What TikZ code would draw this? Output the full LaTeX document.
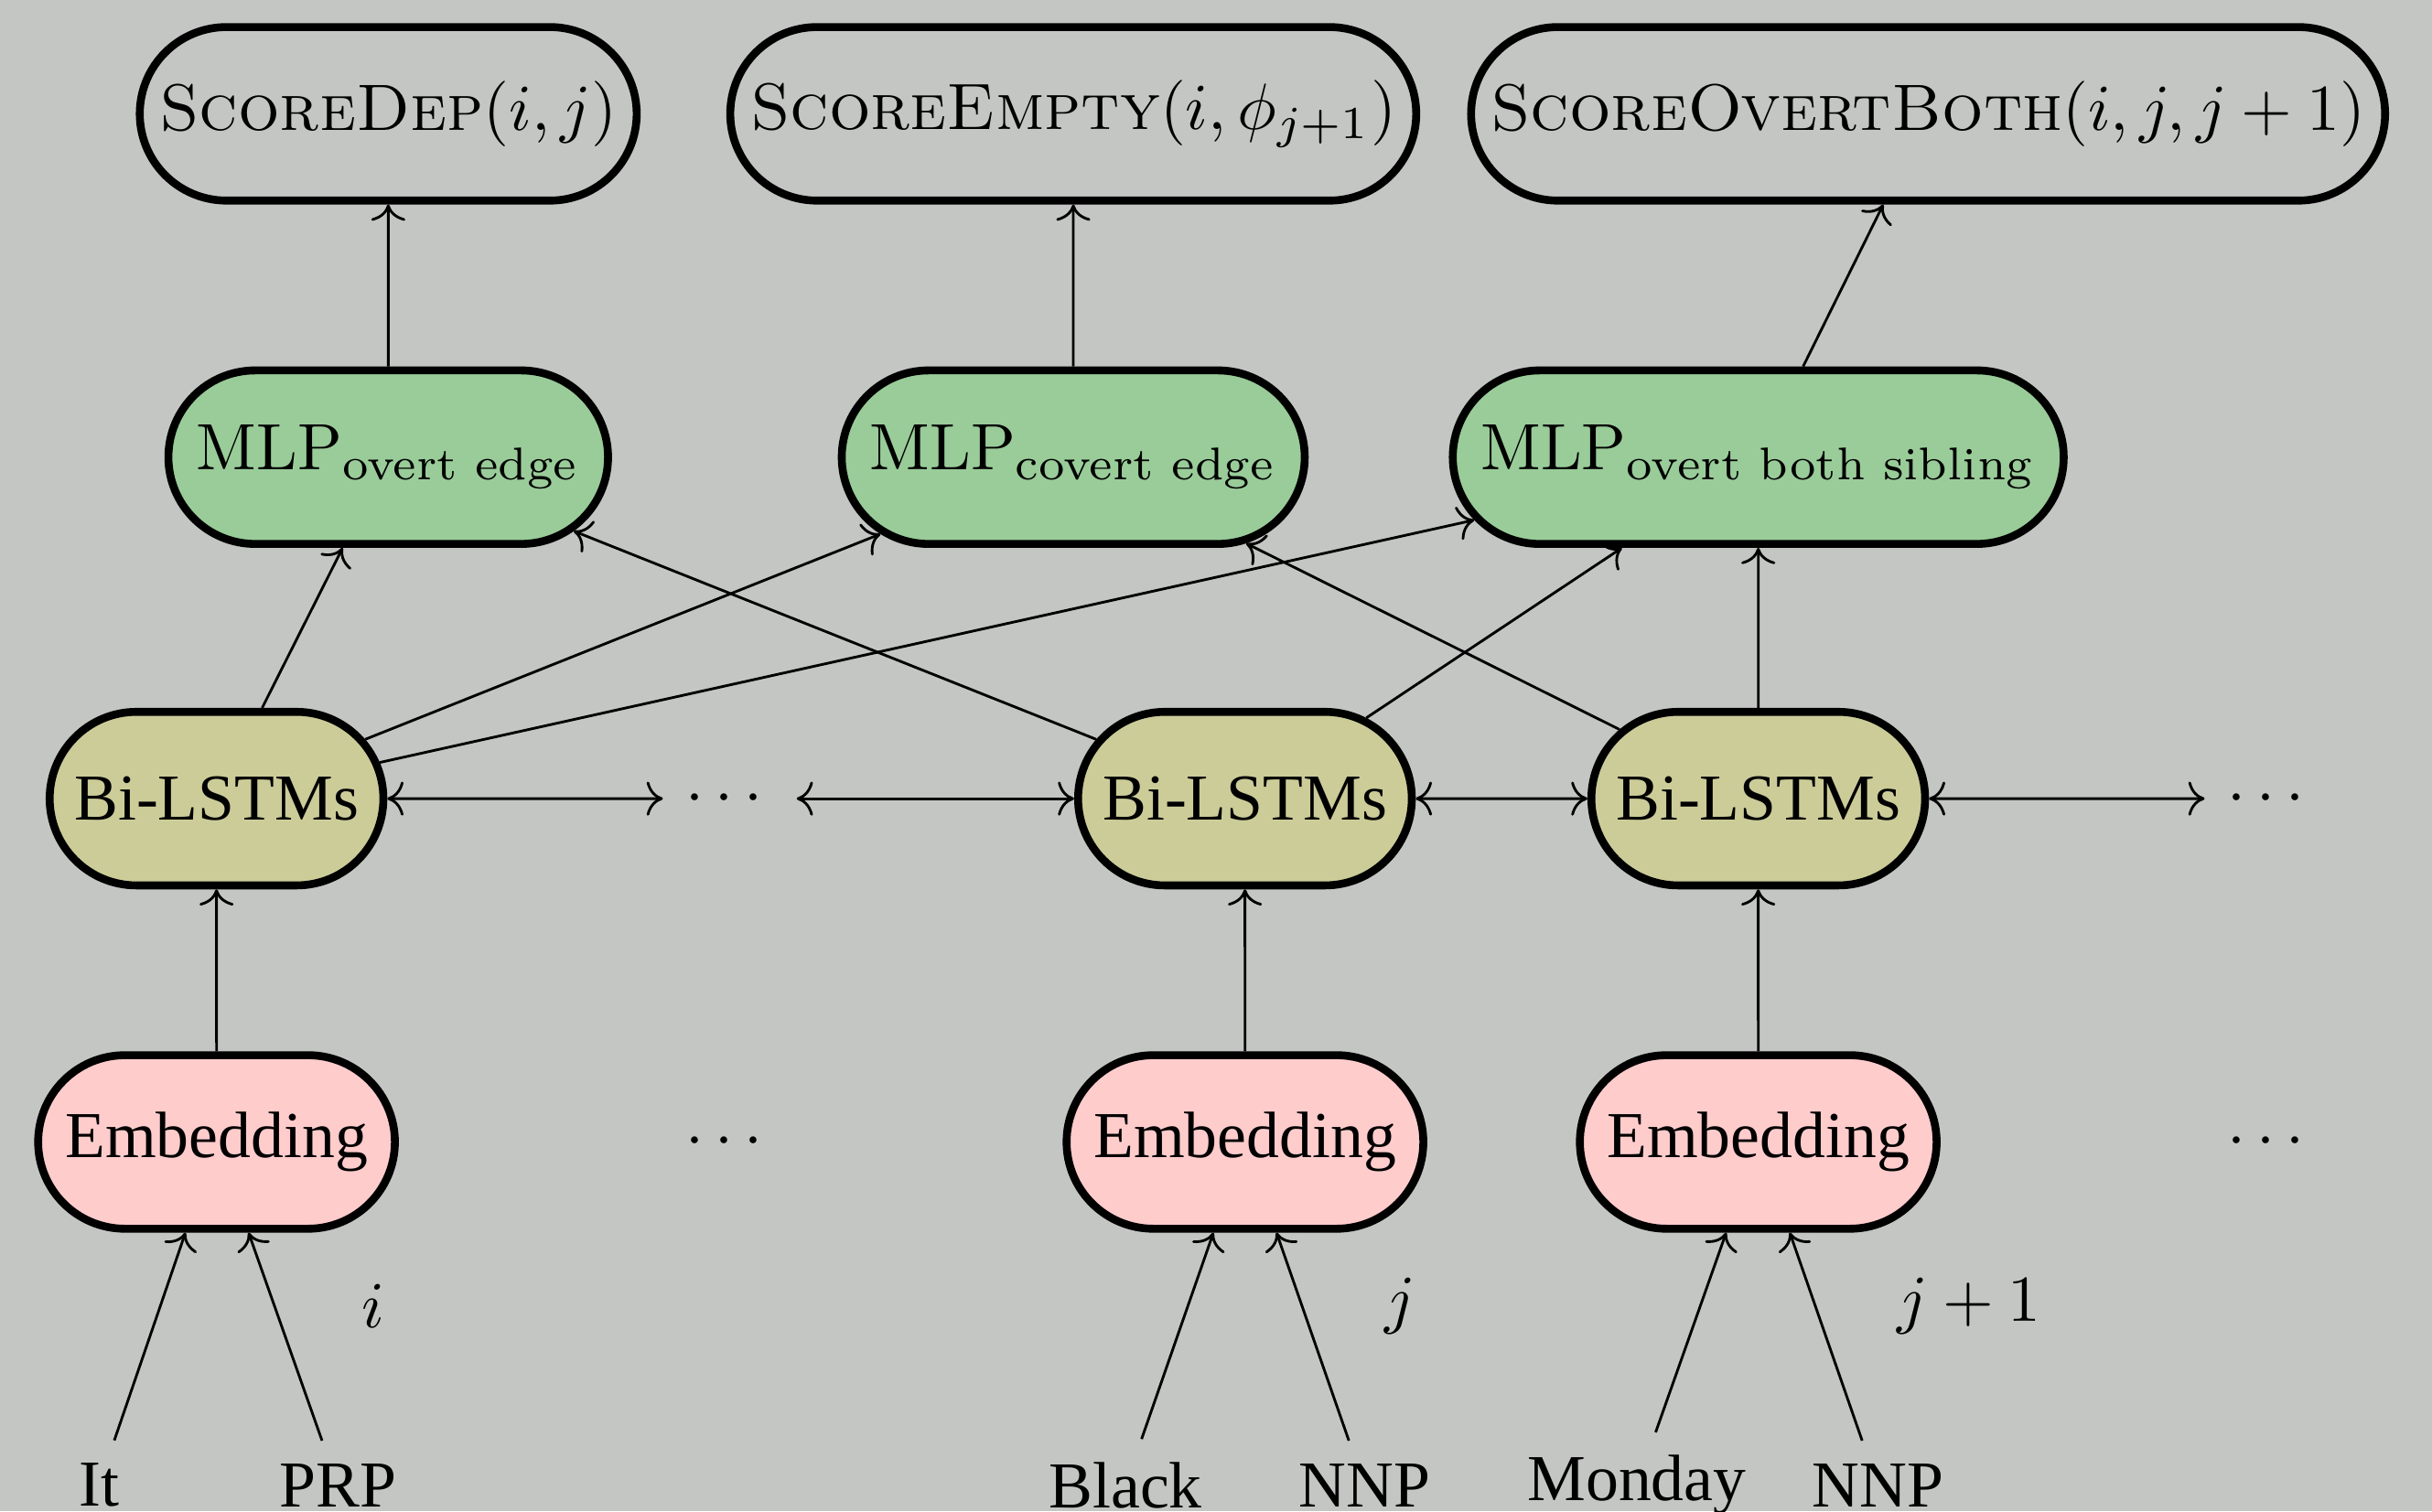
\documentclass[tikz,border=0pt]{standalone}
\usepackage{xcolor}
\usepackage{amsmath}
\usepackage{amssymb}
\usepackage{fontspec}
\newfontfamily\tnr{Liberation Serif}
\usepackage{tikz}
\usetikzlibrary{arrows}
\usetikzlibrary{arrows.meta}
\usetikzlibrary{shapes}
\definecolor{bggray}{RGB}{196,198,196}
\definecolor{mlpgreen}{RGB}{153,204,153}
\definecolor{lstmolive}{RGB}{204,204,153}
\definecolor{embpink}{RGB}{255,204,204}
\tikzstyle{pill} = [rounded rectangle, draw=black, very thick, minimum height=0.93cm]
\tikzstyle{score} = [pill, inner xsep=2pt]
\tikzstyle{mlp} = [pill, fill=mlpgreen]
\tikzstyle{lstm} = [pill, fill=lstmolive, font=\tnr]
\tikzstyle{emb} = [pill, fill=embpink, font=\tnr]
\tikzstyle{word} = [font=\tnr]

\begin{document}
\begin{tikzpicture}
\fill [bggray] (0, 0) rectangle (13.03, 8.10);
\useasboundingbox (0, 0) rectangle (13.03, 8.10);
\node [score] (S1) at (2.08, 7.49) {\textsc{ScoreDep}$(i, j)$};
\node [score] (S2) at (5.75, 7.49) {\textsc{ScoreEmpty}$(i, \phi_{j+1})$};
\node [score] (S3) at (10.33, 7.49) {\textsc{ScoreOvertBoth}$(i, j, j+1)$};
\node [mlp] (M1) at (2.08, 5.65) {$\text{MLP}_{\text{overt edge}}$};
\node [mlp] (M2) at (5.75, 5.65) {$\text{MLP}_{\text{covert edge}}$};
\node [mlp] (M3) at (9.42, 5.65) {$\text{MLP}_{\text{overt both sibling}}$};
\node [lstm] (B1) at (1.16, 3.82) {Bi-LSTMs};
\node (D1) at (3.91, 3.82) {$\cdots$};
\node [lstm] (B2) at (6.67, 3.82) {Bi-LSTMs};
\node [lstm] (B3) at (9.42, 3.82) {Bi-LSTMs};
\node (D2) at (12.17, 3.82) {$\cdots$};
\node [emb] (E1) at (1.16, 1.98) {Embedding};
\node (D3) at (3.91, 1.98) {$\cdots$};
\node [emb] (E2) at (6.67, 1.98) {Embedding};
\node [emb] (E3) at (9.42, 1.98) {Embedding};
\node (D4) at (12.17, 1.98) {$\cdots$};
\node (L1) at (2.00, 1.10) {$i$};
\node (L2) at (7.50, 1.10) {$j$};
\node (L3) at (10.55, 1.10) {$j+1$};
\node [word] (W1) at (0.53, 0.14) {It};
\node [word] (W2) at (1.81, 0.14) {PRP};
\node [word] (W3) at (6.03, 0.14) {Black};
\node [word] (W4) at (7.31, 0.14) {NNP};
\node [word] (W5) at (8.77, 0.14) {Monday};
\node [word] (W6) at (10.06, 0.14) {NNP};
\draw [->] (M1) -- (S1);
\draw [->] (M2) -- (S2);
\draw [->] (M3) -- (S3);
\draw [->] (B1) -- (M1);
\draw [->] (B1) -- (M2);
\draw [->] (B1) -- (M3);
\draw [->] (B2) -- (M1);
\draw [->] (B2) -- (M3);
\draw [->] (B3) -- (M2);
\draw [->] (B3) -- (M3);
\draw [<->] (B1) -- (D1);
\draw [<->] (D1) -- (B2);
\draw [<->] (B2) -- (B3);
\draw [<->] (B3) -- (D2);
\draw [->] (E1) -- (B1);
\draw [->] (E2) -- (B2);
\draw [->] (E3) -- (B3);
\draw [->] (W1) -- (E1);
\draw [->] (W2) -- (E1);
\draw [->] (W3) -- (E2);
\draw [->] (W4) -- (E2);
\draw [->] (W5) -- (E3);
\draw [->] (W6) -- (E3);
\end{tikzpicture}
\end{document}
